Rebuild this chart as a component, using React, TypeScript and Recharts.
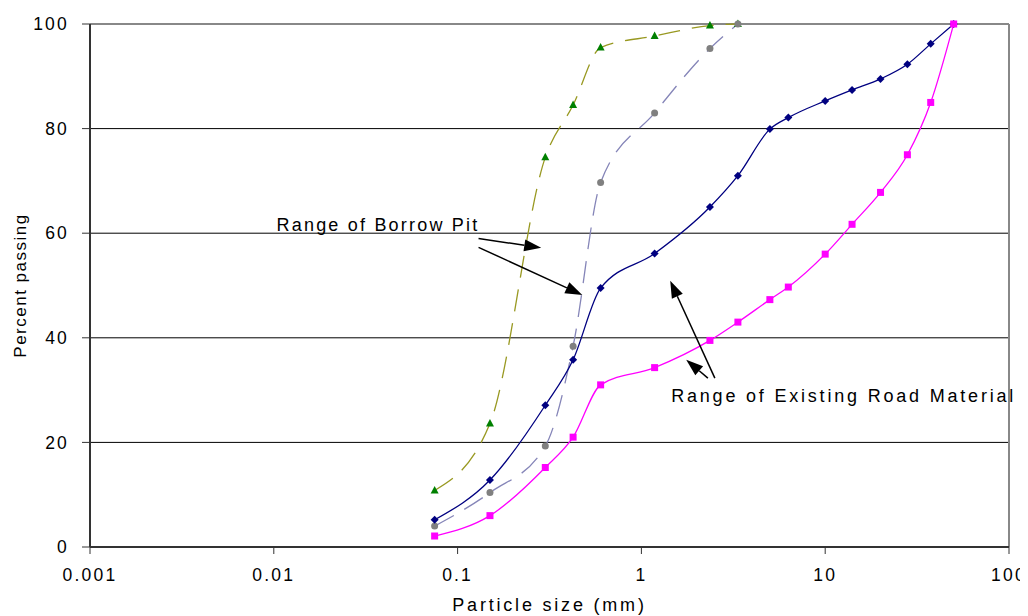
import { LineChart, Line, XAxis, YAxis, CartesianGrid, ReferenceLine, ReferenceDot, Label } from "recharts";

// sieve sizes (mm)
const roadSizes = [0.075, 0.15, 0.3, 0.425, 0.6, 1.18, 2.36, 3.35, 5, 6.3, 10, 14, 20, 28, 37.5, 50];
const pitSizes = [0.075, 0.15, 0.3, 0.425, 0.6, 1.18, 2.36, 3.35];

// percent passing
const roadUpper = [5.2, 12.8, 27.1, 35.8, 49.5, 56.1, 65, 71, 79.9, 82.1, 85.3, 87.4, 89.5, 92.3, 96.2, 100];
const roadLower = [2.1, 6, 15.2, 21, 31, 34.3, 39.5, 43, 47.3, 49.7, 56, 61.7, 67.8, 75, 85, 100];
const pitFine = [10.8, 23.6, 74.5, 84.5, 95.5, 97.7, 99.7, 100];
const pitCoarse = [4, 10.4, 19.3, 38.4, 69.7, 83, 95.3, 100];

const xTicks = [0.001, 0.01, 0.1, 1, 10, 100];
const yTicks = [0, 20, 40, 60, 80, 100];

// annotations (data coords)
const arrowFrom = [
  { x: 0.13, y: 59.0 },
  { x: 0.13, y: 57.3 },
  { x: 2.51, y: 32.3 },
  { x: 2.3, y: 32.3 },
];
const arrowTo = [
  { x: 0.285, y: 57.2 },
  { x: 0.477, y: 48.2 },
  { x: 1.435, y: 50.9 },
  { x: 1.753, y: 35.8 },
];
const notes = [
  { text: "Range of Borrow Pit", x: 0.01035, y: 60.4, spacing: 2.2 },
  { text: "Range of Existing Road Material", x: 1.452, y: 27.8, spacing: 2.8 },
];

const toRows = (xs: number[], ys: number[]) => xs.map((size, i) => ({ size, pct: ys[i] }));

const FONT = "'Liberation Sans', Arial, sans-serif";

const Diamond = (p: any) => {
  const { cx, cy, index } = p;
  return <path key={`bd${index}`} d={`M${cx},${cy - 4}L${cx + 4},${cy}L${cx},${cy + 4}L${cx - 4},${cy}Z`} fill="#000080" />;
};
const Square = (p: any) => {
  const { cx, cy, index } = p;
  return <rect key={`ms${index}`} x={cx - 3.5} y={cy - 3.5} width={7} height={7} fill="#ff00ff" />;
};
const Circle = (p: any) => {
  const { cx, cy, index } = p;
  return <circle key={`gc${index}`} cx={cx} cy={cy} r={3.5} fill="#808080" />;
};
const Triangle = (p: any) => {
  const { cx, cy, index } = p;
  return <path key={`gt${index}`} d={`M${cx},${cy - 4.5}L${cx + 4},${cy + 3}L${cx - 4},${cy + 3}Z`} fill="#008000" />;
};

const Arrow = (p: any) => {
  const { x1, y1, x2, y2 } = p;
  const ang = Math.atan2(y2 - y1, x2 - x1);
  const len = 17;
  const half = 6;
  const bx = x2 - len * Math.cos(ang);
  const by = y2 - len * Math.sin(ang);
  const px = -Math.sin(ang) * half;
  const py = Math.cos(ang) * half;
  return (
    <g>
      <line x1={x1} y1={y1} x2={bx} y2={by} stroke="#000" strokeWidth={1.5} />
      <polygon points={`${x2},${y2} ${bx + px},${by + py} ${bx - px},${by - py}`} fill="#000" />
    </g>
  );
};

export default function App() {
  const tickStyle = { fill: "#000", fontSize: 17.5, fontFamily: FONT, letterSpacing: 2.2 };
  return (
    <LineChart
      width={1020}
      height={608}
      margin={{ top: 16, right: 19, left: 22, bottom: 10 }}
      style={{ overflow: "visible" }}
    >
      <CartesianGrid vertical={false} stroke="#000" strokeWidth={1} />
      <XAxis
        dataKey="size"
        type="number"
        scale="log"
        domain={[0.001, 100]}
        ticks={xTicks}
        interval={0}
        allowDataOverflow
        height={59}
        tickSize={7}
        tickMargin={15}
        tick={tickStyle}
        tickFormatter={(v: number) => String(v)}
        axisLine={{ stroke: "#333", strokeWidth: 2 }}
        tickLine={{ stroke: "#333" }}
      >
        <Label
          content={(p: any) => {
            const vb = p.viewBox;
            return (
              <text x={vb.x + vb.width / 2} y={603} textAnchor="middle" fontSize={18} fontFamily={FONT} letterSpacing={2.8} fill="#000">
                Particle size (mm)
              </text>
            );
          }}
        />
      </XAxis>
      <YAxis
        type="number"
        domain={[0, 100]}
        ticks={yTicks}
        interval={0}
        width={60}
        tickSize={8}
        tickMargin={13}
        tick={tickStyle}
        axisLine={{ stroke: "#333", strokeWidth: 2 }}
        tickLine={{ stroke: "#333" }}
      >
        <Label
          content={(p: any) => {
            const vb = p.viewBox;
            const cy = vb.y + vb.height / 2;
            return (
              <text x={12} y={cy} transform={`rotate(-90, 12, ${cy})`} textAnchor="middle" dominantBaseline="central" fontSize={17} fontFamily={FONT} letterSpacing={1.5} fill="#000">
                Percent passing
              </text>
            );
          }}
        />
      </YAxis>
      <ReferenceLine y={100} stroke="#888" strokeWidth={2} />
      <ReferenceLine x={100} stroke="#888" strokeWidth={2} />

      <Line data={toRows(pitSizes, pitFine)} dataKey="pct" type="monotone" stroke="#999922" strokeWidth={1.3} strokeDasharray="22 12" dot={Triangle} activeDot={false} isAnimationActive={false} />
      <Line data={toRows(pitSizes, pitCoarse)} dataKey="pct" type="monotone" stroke="#8585b8" strokeWidth={1.3} strokeDasharray="22 12" dot={Circle} activeDot={false} isAnimationActive={false} />
      <Line data={toRows(roadSizes, roadUpper)} dataKey="pct" type="monotone" stroke="#000080" strokeWidth={1.3} dot={Diamond} activeDot={false} isAnimationActive={false} />
      <Line data={toRows(roadSizes, roadLower)} dataKey="pct" type="monotone" stroke="#ff00ff" strokeWidth={1.3} dot={Square} activeDot={false} isAnimationActive={false} />

      {arrowFrom.map((a, i) => (
        <ReferenceLine key={`ar${i}`} segment={[a, arrowTo[i]]} shape={Arrow} />
      ))}
      {notes.map((n, i) => (
        <ReferenceDot
          key={`nt${i}`}
          x={n.x}
          y={n.y}
          r={0}
          shape={(p: any) => (
            <text x={p.cx} y={p.cy} fontSize={18} fontFamily={FONT} letterSpacing={n.spacing} fill="#000">
              {n.text}
            </text>
          )}
        />
      ))}
    </LineChart>
  );
}
